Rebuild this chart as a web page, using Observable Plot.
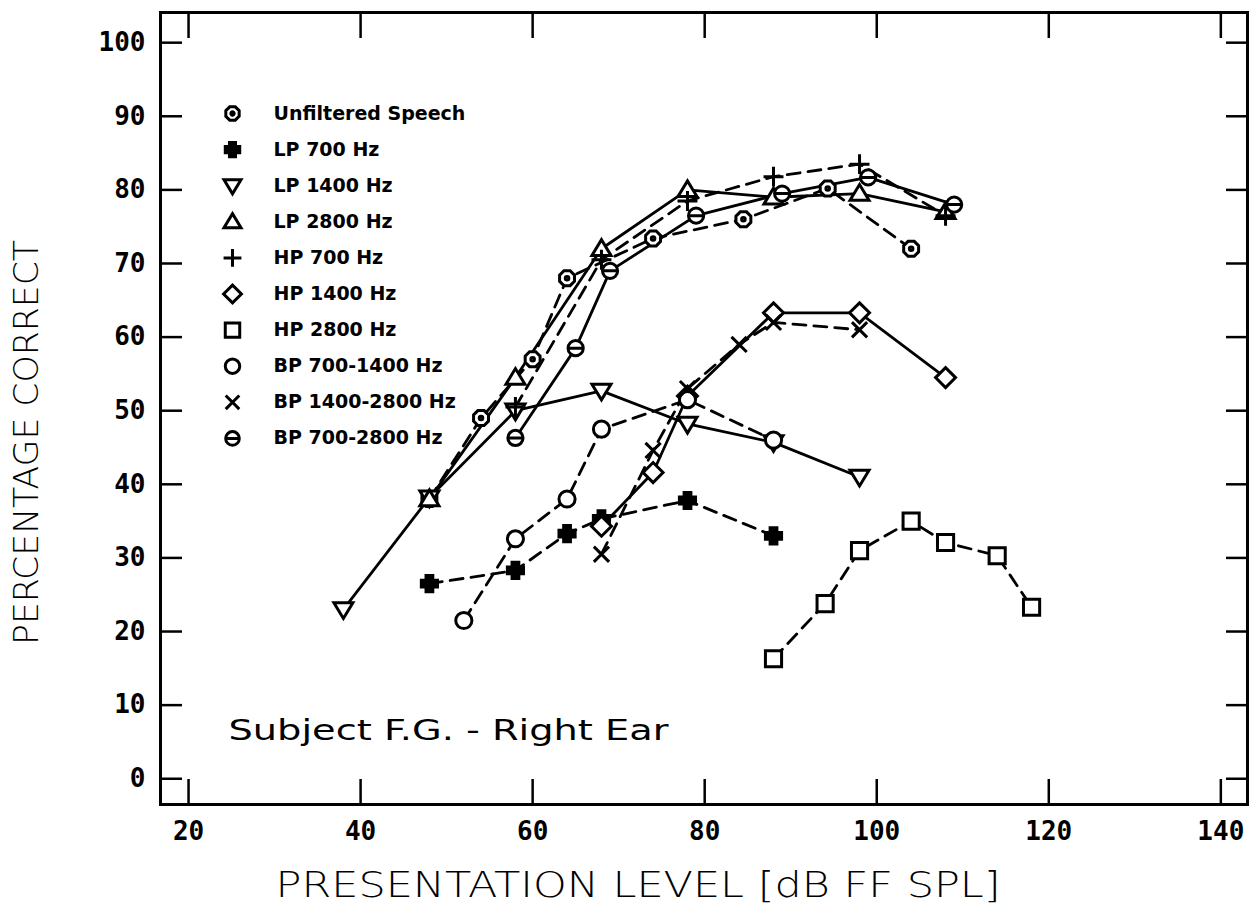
<!DOCTYPE html>
<html><head><meta charset="utf-8">
<script src="https://cdn.jsdelivr.net/npm/d3@7"></script>
<script src="https://cdn.jsdelivr.net/npm/@observablehq/plot@0.6"></script>
<style>html,body{margin:0;padding:0;background:#fff;}</style>
</head><body><div id="chart"></div>
<script>
// ---- data ----
const xTicks = [20, 40, 60, 80, 100, 120, 140];
const yTicks = [0, 10, 20, 30, 40, 50, 60, 70, 80, 90, 100];
const seriesNames = ["Unfiltered Speech", "LP 700 Hz", "LP 1400 Hz", "LP 2800 Hz", "HP 700 Hz",
  "HP 1400 Hz", "HP 2800 Hz", "BP 700-1400 Hz", "BP 1400-2800 Hz", "BP 700-2800 Hz"];

const unfilteredLevel = [48, 54, 60, 64, 74, 84.5, 94.3, 104];
const unfilteredPct   = [38, 49, 57, 68, 73.4, 76, 80.2, 72];
const lp700Level = [48, 58, 64, 68, 78, 88];
const lp700Pct   = [26.5, 28.3, 33.3, 35.3, 37.8, 33];
const lp1400Level = [38, 48, 58, 68, 78, 88, 98];
const lp1400Pct   = [23, 38.2, 50, 52.7, 48.2, 45.7, 41];
const lp2800Level = [48, 58, 68, 78, 88, 98, 108];
const lp2800Pct   = [38, 54.5, 72, 80, 79, 79.5, 77];
const hp700Level = [58, 68, 78, 88, 98, 108];
const hp700Pct   = [50.5, 70.5, 78.5, 81.8, 83.5, 76.5];
const hp1400Level = [68, 74, 78, 88, 98, 108];
const hp1400Pct   = [34.3, 41.6, 52, 63.3, 63.3, 54.5];
const hp2800Level = [88, 94, 98, 104, 108, 114, 118];
const hp2800Pct   = [16.3, 23.8, 31, 35, 32.1, 30.3, 23.3];
const bp7001400Level = [52, 58, 64, 68, 78, 88];
const bp7001400Pct   = [21.5, 32.6, 38, 47.5, 51.5, 46];
const bp14002800Level = [68, 74, 78, 84, 88, 98];
const bp14002800Pct   = [30.5, 44.6, 53, 59, 62, 61];
const bp7002800Level = [58, 65, 69, 79, 89, 99, 109];
const bp7002800Pct   = [46.3, 58.5, 69, 76.5, 79.5, 81.7, 78];

const subjectNote = "Subject F.G. - Right Ear";
const xLabel = "PRESENTATION LEVEL [dB FF SPL]";
const yLabel = "PERCENTAGE CORRECT";

// ---- symbols ----
const R = s => Math.sqrt(s / Math.PI);
const sym = {
  octDot: {draw(c, s) { const r = R(s) * 0.85; for (let i = 0; i < 8; i++) { const a = Math.PI / 8 + i * Math.PI / 4; const px = r * Math.cos(a), py = r * Math.sin(a); i ? c.lineTo(px, py) : c.moveTo(px, py); } c.closePath(); c.moveTo(r * 0.22, 0); c.arc(0, 0, r * 0.22, 0, 2 * Math.PI); }},
  plusHeavy: {draw(c, s) { const r = R(s) * 0.85, w = r * 0.42; c.moveTo(-w, -r); c.lineTo(w, -r); c.lineTo(w, -w); c.lineTo(r, -w); c.lineTo(r, w); c.lineTo(w, w); c.lineTo(w, r); c.lineTo(-w, r); c.lineTo(-w, w); c.lineTo(-r, w); c.lineTo(-r, -w); c.lineTo(-w, -w); c.closePath(); }},
  triDown: {draw(c, s) { const r = R(s); c.moveTo(-r, -r * 0.7); c.lineTo(r, -r * 0.7); c.lineTo(0, r * 0.95); c.closePath(); }},
  triUp: {draw(c, s) { const r = R(s); c.moveTo(-r, r * 0.7); c.lineTo(r, r * 0.7); c.lineTo(0, -r * 0.95); c.closePath(); }},
  plusThin: {draw(c, s) { const r = R(s) * 1.05; c.moveTo(-r, 0); c.lineTo(r, 0); c.moveTo(0, -r); c.lineTo(0, r); }},
  diamond: {draw(c, s) { const r = R(s) * 1.05; c.moveTo(0, -r); c.lineTo(r, 0); c.lineTo(0, r); c.lineTo(-r, 0); c.closePath(); }},
  square: {draw(c, s) { const r = R(s) * 0.85; c.rect(-r, -r, 2 * r, 2 * r); }},
  circle: {draw(c, s) { const r = R(s) * 0.85; c.moveTo(r, 0); c.arc(0, 0, r, 0, 2 * Math.PI); }},
  times: {draw(c, s) { const r = R(s) * 0.8; c.moveTo(-r, -r); c.lineTo(r, r); c.moveTo(r, -r); c.lineTo(-r, r); }},
  theta: {draw(c, s) { const r = R(s) * 0.8; c.moveTo(r, 0); c.arc(0, 0, r, 0, 2 * Math.PI); c.moveTo(-r, 0); c.lineTo(r, 0); }}
};

const series = [
  {name: seriesNames[0], x: unfilteredLevel, y: unfilteredPct, symbol: sym.octDot, fill: "white", dashed: true},
  {name: seriesNames[1], x: lp700Level, y: lp700Pct, symbol: sym.plusHeavy, fill: "black", dashed: true},
  {name: seriesNames[2], x: lp1400Level, y: lp1400Pct, symbol: sym.triDown, fill: "white", dashed: false},
  {name: seriesNames[3], x: lp2800Level, y: lp2800Pct, symbol: sym.triUp, fill: "white", dashed: false},
  {name: seriesNames[4], x: hp700Level, y: hp700Pct, symbol: sym.plusThin, fill: "none", dashed: true},
  {name: seriesNames[5], x: hp1400Level, y: hp1400Pct, symbol: sym.diamond, fill: "white", dashed: false},
  {name: seriesNames[6], x: hp2800Level, y: hp2800Pct, symbol: sym.square, fill: "white", dashed: true},
  {name: seriesNames[7], x: bp7001400Level, y: bp7001400Pct, symbol: sym.circle, fill: "white", dashed: true},
  {name: seriesNames[8], x: bp14002800Level, y: bp14002800Pct, symbol: sym.times, fill: "none", dashed: true},
  {name: seriesNames[9], x: bp7002800Level, y: bp7002800Pct, symbol: sym.theta, fill: "white", dashed: false}
];

const rows = series.flatMap(s => s.x.map((x, i) => ({series: s.name, x, y: s.y[i]})));

const tickFont = "'DejaVu Sans Mono', monospace";
const marks = [
  Plot.frame({stroke: "black", strokeWidth: 3}),
  Plot.axisX({anchor: "bottom", ticks: xTicks, tickSize: -25, tickPadding: 42, strokeWidth: 2.5,
    fontSize: 26, fontWeight: "bold", fontFamily: tickFont, label: null, tickFormat: d => String(d)}),
  Plot.axisX({anchor: "top", ticks: xTicks, tickSize: -25, strokeWidth: 2.5, label: null, tickFormat: () => ""}),
  Plot.axisY({anchor: "left", ticks: yTicks, tickSize: -22, tickPadding: 37, strokeWidth: 2.5,
    fontSize: 26, fontWeight: "bold", fontFamily: tickFont, label: null, tickFormat: d => String(d)}),
  Plot.axisY({anchor: "right", ticks: yTicks, tickSize: -22, strokeWidth: 2.5, label: null, tickFormat: () => ""})
];

for (const s of series) {
  const data = rows.filter(d => d.series === s.name);
  marks.push(Plot.line(data, {x: "x", y: "y", stroke: "black", strokeWidth: 2.8,
    strokeDasharray: s.dashed ? "13,8" : null, strokeLinecap: "round"}));
}
for (const s of series) {
  const data = rows.filter(d => d.series === s.name);
  marks.push(Plot.dot(data, {x: "x", y: "y", symbol: s.symbol, r: 9.5, stroke: "black",
    strokeWidth: 3, fill: s.fill}));
}
// legend inside frame
series.forEach((s, i) => {
  marks.push(Plot.dot([s.name], {frameAnchor: "top-left", dx: 72, dy: 101 + i * 36.1, symbol: s.symbol,
    r: 8.5, stroke: "black", strokeWidth: 3, fill: s.fill}));
  marks.push(Plot.text([s.name], {frameAnchor: "top-left", dx: 113, dy: 101 + i * 36.1, text: d => d,
    textAnchor: "start", lineAnchor: "middle", fontSize: 19, fontWeight: "bold",
    fontFamily: "'DejaVu Sans', sans-serif", fill: "black"}));
});
marks.push(Plot.text([subjectNote], {frameAnchor: "top-left", dx: 68, dy: 719, text: d => d,
  textAnchor: "start", lineAnchor: "middle", fontSize: 28, fontWeight: "normal",
  fontFamily: "'DejaVu Sans', sans-serif", fill: "black"}));
marks.push(Plot.text([xLabel], {frameAnchor: "bottom", dx: -66, dy: 81, text: d => d,
  textAnchor: "middle", lineAnchor: "middle", fontSize: 36, fontWeight: 300,
  fontFamily: "'DejaVu Sans', sans-serif", fill: "black"}));
marks.push(Plot.text([yLabel], {frameAnchor: "left", dx: -133, dy: 34, rotate: -90, text: d => d,
  textAnchor: "middle", lineAnchor: "middle", fontSize: 34, fontWeight: 300,
  fontFamily: "'DejaVu Sans', sans-serif", fill: "black"}));

const chart = Plot.plot({
  width: 1259, height: 918,
  marginLeft: 160, marginRight: 12, marginTop: 12, marginBottom: 114,
  x: {domain: [16.74, 143.1], label: null},
  y: {domain: [-3.5, 104.1], label: null},
  style: {background: "white", color: "black", overflow: "visible"},
  marks
});
document.getElementById("chart").appendChild(chart);

// stretch a few long texts to the widths seen in the reference
const lengths = {};
lengths[xLabel] = 725;
lengths[yLabel] = 405;
lengths[subjectNote] = 440;
d3.select(chart).selectAll("text").each(function () {
  const t = this.textContent;
  if (lengths[t] && this.childElementCount === 0) {
    this.setAttribute("textLength", lengths[t]);
    this.setAttribute("lengthAdjust", "spacingAndGlyphs");
  }
});
</script>
</body></html>
